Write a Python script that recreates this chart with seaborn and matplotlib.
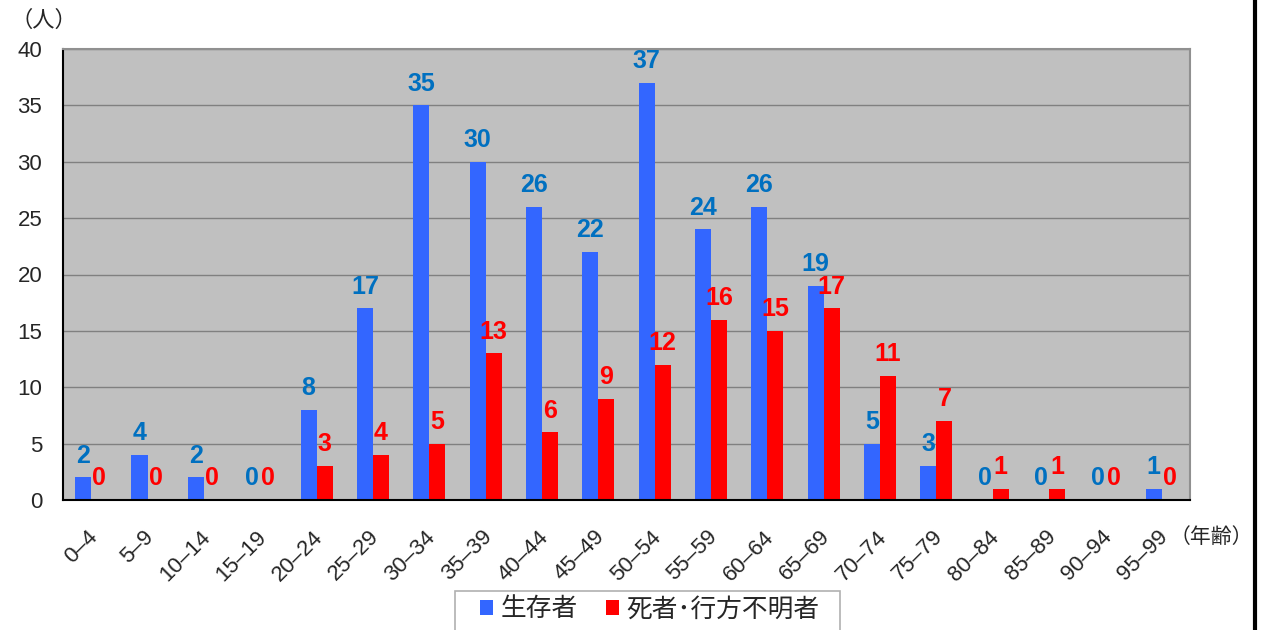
import matplotlib
matplotlib.use("Agg")
import matplotlib.pyplot as plt
import matplotlib.transforms as mtransforms
import seaborn as sns
import pandas as pd
from matplotlib.lines import Line2D
from matplotlib.patches import Rectangle

categories = ["0–4", "5–9", "10–14", "15–19", "20–24", "25–29", "30–34", "35–39",
              "40–44", "45–49", "50–54", "55–59", "60–64", "65–69", "70–74", "75–79",
              "80–84", "85–89", "90–94", "95–99"]
survivors = [2, 4, 2, 0, 8, 17, 35, 30, 26, 22, 37, 24, 26, 19, 5, 3, 0, 0, 0, 1]
dead_missing = [0, 0, 0, 0, 3, 4, 5, 13, 6, 9, 12, 16, 15, 17, 11, 7, 1, 1, 0, 0]
series_names = ["生存者", "死者･行方不明者"]
yticks = [0, 5, 10, 15, 20, 25, 30, 35, 40]

sns.set_style("white")
plt.rcParams['font.family'] = ['Liberation Sans', 'Noto Sans CJK JP', 'DejaVu Sans']

df = pd.DataFrame({
    "age": categories * 2,
    "value": survivors + dead_missing,
    "series": [series_names[0]] * len(categories) + [series_names[1]] * len(categories),
})

fig = plt.figure(figsize=(12.63, 6.30), dpi=100)
ax = fig.add_axes([63/1263, 1-500/630, (1190-63)/1263, (500-49)/630])
ax.set_facecolor("#C0C0C0")

sns.barplot(data=df, x="age", y="value", hue="series", order=categories,
            hue_order=series_names, palette=["#3366FF", "#FF0000"],
            width=0.57, ax=ax, saturation=1, legend=True, linewidth=0)

ax.set_ylim(0, 40)
ax.set_xlim(-0.5, len(categories) - 0.5)
ax.set_yticks(yticks)
ax.set_yticklabels([str(t) for t in yticks], fontsize=16)
ax.yaxis.grid(True, color="#808080", linewidth=1)
ax.set_axisbelow(True)
ax.tick_params(axis='y', length=0, pad=15)
ax.set_xlabel("")
ax.set_ylabel("")

ax.set_xticks(range(len(categories)))
ax.set_xticklabels(categories, rotation=45, ha='right', rotation_mode='anchor', fontsize=16)
ax.tick_params(axis='x', length=0, pad=19)
offset = mtransforms.ScaledTranslation(-3/72, 0, fig.dpi_scale_trans)
for lbl in ax.get_xticklabels():
    lbl.set_transform(lbl.get_transform() + offset)
ax.set_xticks([i + 0.5 for i in range(len(categories) - 1)], minor=True)
ax.tick_params(axis='x', which='minor', direction='in', length=6, color="#808080")

for side in ["left", "bottom"]:
    ax.spines[side].set_color("black")
    ax.spines[side].set_linewidth(1.5)
for side in ["top", "right"]:
    ax.spines[side].set_color("#909090")
    ax.spines[side].set_linewidth(1.5)

colors_lbl = ["#0070C0", "#FF0000"]
for cont, col in zip(ax.containers, colors_lbl):
    ax.bar_label(cont, labels=[str(int(round(b.get_height()))) for b in cont],
                 padding=7, color=col, fontsize=18, fontweight='bold')

# legend box drawn in figure pixels (bottom edge runs off the canvas as in the reference)
fig.add_artist(Rectangle((455/1263, -0.02), (840-455)/1263, 0.02 + (630-591)/630,
                         transform=fig.transFigure, facecolor="white",
                         edgecolor="#B0B0B0", linewidth=1.2, zorder=-1))
leg = ax.legend(loc='upper center', bbox_to_anchor=(0.5208, -0.2018), ncol=2,
                fontsize=18.5, frameon=False,
                handlelength=0.5, handleheight=0.5, handletextpad=0.3, columnspacing=1.1,
                borderpad=0.25, borderaxespad=0)

fig.text(10/1263, 1-21/630, "（人）", fontsize=16, va='center', ha='left')
fig.text(1170/1263, 1-537/630, "（年齢）", fontsize=15, va='center', ha='left')

fig.add_artist(Line2D([1255/1263, 1255/1263], [0, 1], color="black", linewidth=3,
                      transform=fig.transFigure))

fig.savefig("out.png", dpi=100)
